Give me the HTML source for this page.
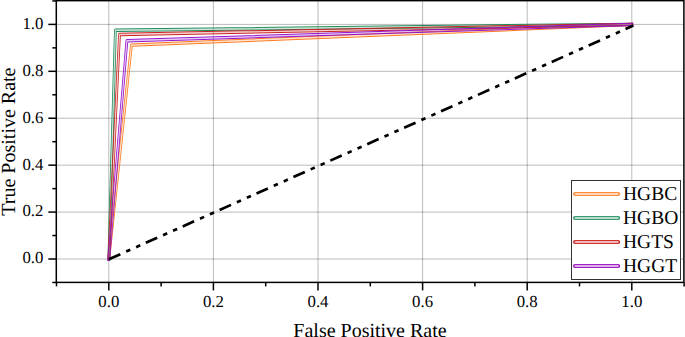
<!DOCTYPE html>
<html><head><meta charset="utf-8"><style>
html,body{margin:0;padding:0;background:#fff;}
body{width:685px;height:337px;overflow:hidden;font-family:"Liberation Serif", serif;}
svg{display:block;text-rendering:geometricPrecision;}
</style></head><body>
<svg width="685" height="337" viewBox="0 0 685 337">
<defs><mask id="m0" maskUnits="userSpaceOnUse" x="-100" y="-100" width="1370" height="674"><rect x="-100" y="-100" width="1370" height="674" fill="#fff"/><path d="M136.000,259.00 L164.250,45.10 L789.750,24.40" fill="none" stroke="#000" stroke-width="1.4" stroke-linejoin="round" stroke-linecap="butt"/></mask><mask id="m1" maskUnits="userSpaceOnUse" x="-100" y="-100" width="1370" height="674"><rect x="-100" y="-100" width="1370" height="674" fill="#fff"/><path d="M136.000,259.00 L144.250,30.30 L789.750,24.40" fill="none" stroke="#000" stroke-width="1.4" stroke-linejoin="round" stroke-linecap="butt"/></mask><mask id="m2" maskUnits="userSpaceOnUse" x="-100" y="-100" width="1370" height="674"><rect x="-100" y="-100" width="1370" height="674" fill="#fff"/><path d="M136.000,259.00 L149.375,34.50 L789.750,24.40" fill="none" stroke="#000" stroke-width="1.4" stroke-linejoin="round" stroke-linecap="butt"/></mask><mask id="m3" maskUnits="userSpaceOnUse" x="-100" y="-100" width="1370" height="674"><rect x="-100" y="-100" width="1370" height="674" fill="#fff"/><path d="M136.000,259.00 L158.625,40.80 L789.750,24.40" fill="none" stroke="#000" stroke-width="1.4" stroke-linejoin="round" stroke-linecap="butt"/></mask><mask id="m4" maskUnits="userSpaceOnUse" x="-100" y="-100" width="1370" height="674"><rect x="-100" y="-100" width="1370" height="674" fill="#fff"/><path d="M575.6,194 L617.6,194" fill="none" stroke="#000" stroke-width="1.8" stroke-linejoin="miter" stroke-linecap="round"/></mask><mask id="m5" maskUnits="userSpaceOnUse" x="-100" y="-100" width="1370" height="674"><rect x="-100" y="-100" width="1370" height="674" fill="#fff"/><path d="M575.6,218 L617.6,218" fill="none" stroke="#000" stroke-width="1.8" stroke-linejoin="miter" stroke-linecap="round"/></mask><mask id="m6" maskUnits="userSpaceOnUse" x="-100" y="-100" width="1370" height="674"><rect x="-100" y="-100" width="1370" height="674" fill="#fff"/><path d="M575.6,242 L617.6,242" fill="none" stroke="#000" stroke-width="1.8" stroke-linejoin="miter" stroke-linecap="round"/></mask><mask id="m7" maskUnits="userSpaceOnUse" x="-100" y="-100" width="1370" height="674"><rect x="-100" y="-100" width="1370" height="674" fill="#fff"/><path d="M575.6,266 L617.6,266" fill="none" stroke="#000" stroke-width="1.8" stroke-linejoin="miter" stroke-linecap="round"/></mask></defs>
<g stroke="#000" stroke-opacity="0.27" stroke-width="1"><line x1="108.80" y1="282.4" x2="108.80" y2="0.65"/><line x1="56.3" y1="259.00" x2="683.9" y2="259.00"/><line x1="213.40" y1="282.4" x2="213.40" y2="0.65"/><line x1="56.3" y1="212.08" x2="683.9" y2="212.08"/><line x1="318.00" y1="282.4" x2="318.00" y2="0.65"/><line x1="56.3" y1="165.16" x2="683.9" y2="165.16"/><line x1="422.60" y1="282.4" x2="422.60" y2="0.65"/><line x1="56.3" y1="118.24" x2="683.9" y2="118.24"/><line x1="527.20" y1="282.4" x2="527.20" y2="0.65"/><line x1="56.3" y1="71.32" x2="683.9" y2="71.32"/><line x1="631.80" y1="282.4" x2="631.80" y2="0.65"/><line x1="56.3" y1="24.40" x2="683.9" y2="24.40"/></g>
<g transform="scale(0.8,1)">
<path d="M136.000,259.00 L164.250,45.10 L789.750,24.40" fill="none" stroke="#FF7A1E" stroke-width="3.4" stroke-linejoin="round" stroke-linecap="square" mask="url(#m0)"/><path d="M136.000,259.00 L164.250,45.10 L789.750,24.40" fill="none" stroke="#FF7A1E" stroke-opacity="0.22" stroke-width="1.4" stroke-linejoin="round" stroke-linecap="butt"/>
<path d="M136.000,259.00 L144.250,30.30 L789.750,24.40" fill="none" stroke="#1F8A5A" stroke-width="3.4" stroke-linejoin="round" stroke-linecap="square" mask="url(#m1)"/><path d="M136.000,259.00 L144.250,30.30 L789.750,24.40" fill="none" stroke="#1F8A5A" stroke-opacity="0.22" stroke-width="1.4" stroke-linejoin="round" stroke-linecap="butt"/>
<path d="M136.000,259.00 L149.375,34.50 L789.750,24.40" fill="none" stroke="#CC1F1F" stroke-width="3.4" stroke-linejoin="round" stroke-linecap="square" mask="url(#m2)"/><path d="M136.000,259.00 L149.375,34.50 L789.750,24.40" fill="none" stroke="#CC1F1F" stroke-opacity="0.22" stroke-width="1.4" stroke-linejoin="round" stroke-linecap="butt"/>
<path d="M136.000,259.00 L158.625,40.80 L789.750,24.40" fill="none" stroke="#9414CC" stroke-width="3.4" stroke-linejoin="round" stroke-linecap="square" mask="url(#m3)"/><path d="M136.000,259.00 L158.625,40.80 L789.750,24.40" fill="none" stroke="#9414CC" stroke-opacity="0.22" stroke-width="1.4" stroke-linejoin="round" stroke-linecap="butt"/>
</g>
<line x1="108.9" y1="259.3" x2="633.4" y2="25.58" stroke="#000" stroke-width="2.7" stroke-dasharray="12.5 6.4 4.5 6.4 4.5 6.1"/>
<rect x="56.30" y="0.65" width="627.60" height="281.75" fill="none" stroke="#000" stroke-width="1.5"/>
<g stroke="#000" stroke-width="1.5"><line x1="52.30" y1="282.46" x2="56.30" y2="282.46"/><line x1="56.50" y1="282.40" x2="56.50" y2="286.40"/><line x1="48.30" y1="259.00" x2="56.30" y2="259.00"/><line x1="108.80" y1="282.40" x2="108.80" y2="290.40"/><line x1="52.30" y1="235.54" x2="56.30" y2="235.54"/><line x1="161.10" y1="282.40" x2="161.10" y2="286.40"/><line x1="48.30" y1="212.08" x2="56.30" y2="212.08"/><line x1="213.40" y1="282.40" x2="213.40" y2="290.40"/><line x1="52.30" y1="188.62" x2="56.30" y2="188.62"/><line x1="265.70" y1="282.40" x2="265.70" y2="286.40"/><line x1="48.30" y1="165.16" x2="56.30" y2="165.16"/><line x1="318.00" y1="282.40" x2="318.00" y2="290.40"/><line x1="52.30" y1="141.70" x2="56.30" y2="141.70"/><line x1="370.30" y1="282.40" x2="370.30" y2="286.40"/><line x1="48.30" y1="118.24" x2="56.30" y2="118.24"/><line x1="422.60" y1="282.40" x2="422.60" y2="290.40"/><line x1="52.30" y1="94.78" x2="56.30" y2="94.78"/><line x1="474.90" y1="282.40" x2="474.90" y2="286.40"/><line x1="48.30" y1="71.32" x2="56.30" y2="71.32"/><line x1="527.20" y1="282.40" x2="527.20" y2="290.40"/><line x1="52.30" y1="47.86" x2="56.30" y2="47.86"/><line x1="579.50" y1="282.40" x2="579.50" y2="286.40"/><line x1="48.30" y1="24.40" x2="56.30" y2="24.40"/><line x1="631.80" y1="282.40" x2="631.80" y2="290.40"/><line x1="52.30" y1="0.94" x2="56.30" y2="0.94"/><line x1="684.10" y1="282.40" x2="684.10" y2="286.40"/></g>
<g font-family='"Liberation Serif", serif' font-size="16.8" fill="#000"><text x="43.4" y="263.40" text-anchor="end">0.0</text><text x="108.80" y="307.2" text-anchor="middle">0.0</text><text x="43.4" y="216.48" text-anchor="end">0.2</text><text x="213.40" y="307.2" text-anchor="middle">0.2</text><text x="43.4" y="169.56" text-anchor="end">0.4</text><text x="318.00" y="307.2" text-anchor="middle">0.4</text><text x="43.4" y="122.64" text-anchor="end">0.6</text><text x="422.60" y="307.2" text-anchor="middle">0.6</text><text x="43.4" y="75.72" text-anchor="end">0.8</text><text x="527.20" y="307.2" text-anchor="middle">0.8</text><text x="43.4" y="28.80" text-anchor="end">1.0</text><text x="631.80" y="307.2" text-anchor="middle">1.0</text></g>
<text x="370" y="336.5" text-anchor="middle" font-family='"Liberation Serif", serif' font-size="20" fill="#000">False Positive Rate</text>
<text transform="translate(15,141.6) rotate(-90)" text-anchor="middle" font-family='"Liberation Serif", serif' font-size="20" fill="#000">True Positive Rate</text>
<rect x="571.5" y="180.5" width="109" height="99" fill="#fff" stroke="#333" stroke-width="1"/>
<path d="M575,194 L618.2,194" fill="none" stroke="#FF8C3C" stroke-width="4.0" stroke-linejoin="miter" stroke-linecap="round" mask="url(#m4)"/><path d="M575.6,194 L617.6,194" fill="none" stroke="#FF8C3C" stroke-opacity="0.35" stroke-width="1.8" stroke-linejoin="miter" stroke-linecap="round"/>
<text x="623" y="199.80" font-family='"Liberation Serif", serif' font-size="19.5" fill="#000">HGBC</text>
<path d="M575,218 L618.2,218" fill="none" stroke="#3A9A70" stroke-width="4.0" stroke-linejoin="miter" stroke-linecap="round" mask="url(#m5)"/><path d="M575.6,218 L617.6,218" fill="none" stroke="#3A9A70" stroke-opacity="0.35" stroke-width="1.8" stroke-linejoin="miter" stroke-linecap="round"/>
<text x="623" y="223.95" font-family='"Liberation Serif", serif' font-size="19.5" fill="#000">HGBO</text>
<path d="M575,242 L618.2,242" fill="none" stroke="#D03030" stroke-width="4.0" stroke-linejoin="miter" stroke-linecap="round" mask="url(#m6)"/><path d="M575.6,242 L617.6,242" fill="none" stroke="#D03030" stroke-opacity="0.35" stroke-width="1.8" stroke-linejoin="miter" stroke-linecap="round"/>
<text x="623" y="248.10" font-family='"Liberation Serif", serif' font-size="19.5" fill="#000">HGTS</text>
<path d="M575,266 L618.2,266" fill="none" stroke="#A020C8" stroke-width="4.0" stroke-linejoin="miter" stroke-linecap="round" mask="url(#m7)"/><path d="M575.6,266 L617.6,266" fill="none" stroke="#A020C8" stroke-opacity="0.35" stroke-width="1.8" stroke-linejoin="miter" stroke-linecap="round"/>
<text x="623" y="272.25" font-family='"Liberation Serif", serif' font-size="19.5" fill="#000">HGGT</text>
</svg>
</body></html>
